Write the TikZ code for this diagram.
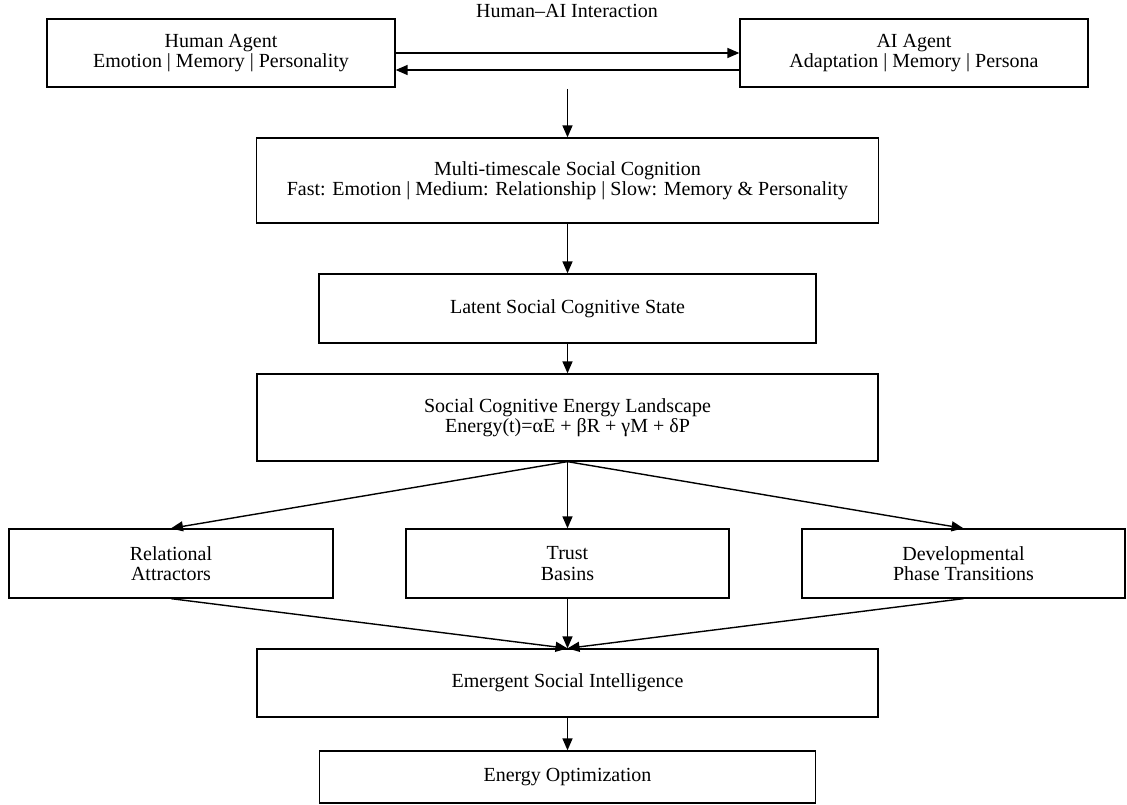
\documentclass[tikz,border=0pt]{standalone}
\usepackage{fontspec}
\setmainfont{Liberation Serif}
\usetikzlibrary{arrows.meta}
\begin{document}
\begin{tikzpicture}[x=1pt,y=-1pt,
  box/.style={draw=black,line width=1.3pt,align=center,inner sep=0pt,
    font=\fontsize{20}{20.5}\selectfont},
  arr/.style={-{Triangle[length=12pt,width=10pt]},line width=1.4pt},
  lbl/.style={font=\fontsize{20}{20.5}\selectfont,inner sep=0pt}]
\useasboundingbox (0,0) rectangle (1127,805);
\node[lbl,anchor=base] (title) at (567,18) {Human–AI Interaction};
\node[box,minimum width=348pt,minimum height=68pt] (human) at (221,53) {Human Agent\\Emotion | Memory | Personality};
\node[box,minimum width=348pt,minimum height=68pt] (ai) at (914,53) {AI Agent\\Adaptation | Memory | Persona};
\node[box,minimum width=622pt,minimum height=85pt] (multi) at (567.5,180.5) {Multi-timescale Social Cognition\\Fast: Emotion | Medium: Relationship | Slow: Memory \& Personality};
\node[box,minimum width=497pt,minimum height=69pt] (latent) at (567.5,308.5) {Latent Social Cognitive State};
\node[box,minimum width=621pt,minimum height=87pt] (energy) at (567.5,417.5) {Social Cognitive Energy Landscape\\Energy(t)=αE + βR + γM + δP};
\node[box,minimum width=324pt,minimum height=69pt] (rel) at (171,563.5) {Relational\\Attractors};
\node[box,minimum width=323pt,minimum height=69pt] (trust) at (567.5,563.5) {Trust\\Basins};
\node[box,minimum width=323pt,minimum height=69pt] (dev) at (963.5,563.5) {Developmental\\Phase Transitions};
\node[box,minimum width=621pt,minimum height=68pt] (emerg) at (567.5,683) {Emergent Social Intelligence};
\node[box,minimum width=496pt,minimum height=52pt] (opt) at (567.5,777) {Energy Optimization};
\draw[arr] (human.east |- 0,53) -- (ai.west |- 0,53);
\draw[arr] (ai.west |- 0,70) -- (human.east |- 0,70);
\coordinate (top) at (567.5,89);
\draw[arr] (top) -- (multi.north);
\draw[arr] (multi.south) -- (latent.north);
\draw[arr] (latent.south) -- (energy.north);
\draw[arr] (energy.south) -- (rel.north);
\draw[arr] (energy.south) -- (trust.north);
\draw[arr] (energy.south) -- (dev.north);
\draw[arr] (rel.south) -- (emerg.north);
\draw[arr] (trust.south) -- (emerg.north);
\draw[arr] (dev.south) -- (emerg.north);
\draw[arr] (emerg.south) -- (opt.north);
\end{tikzpicture}
\end{document}
